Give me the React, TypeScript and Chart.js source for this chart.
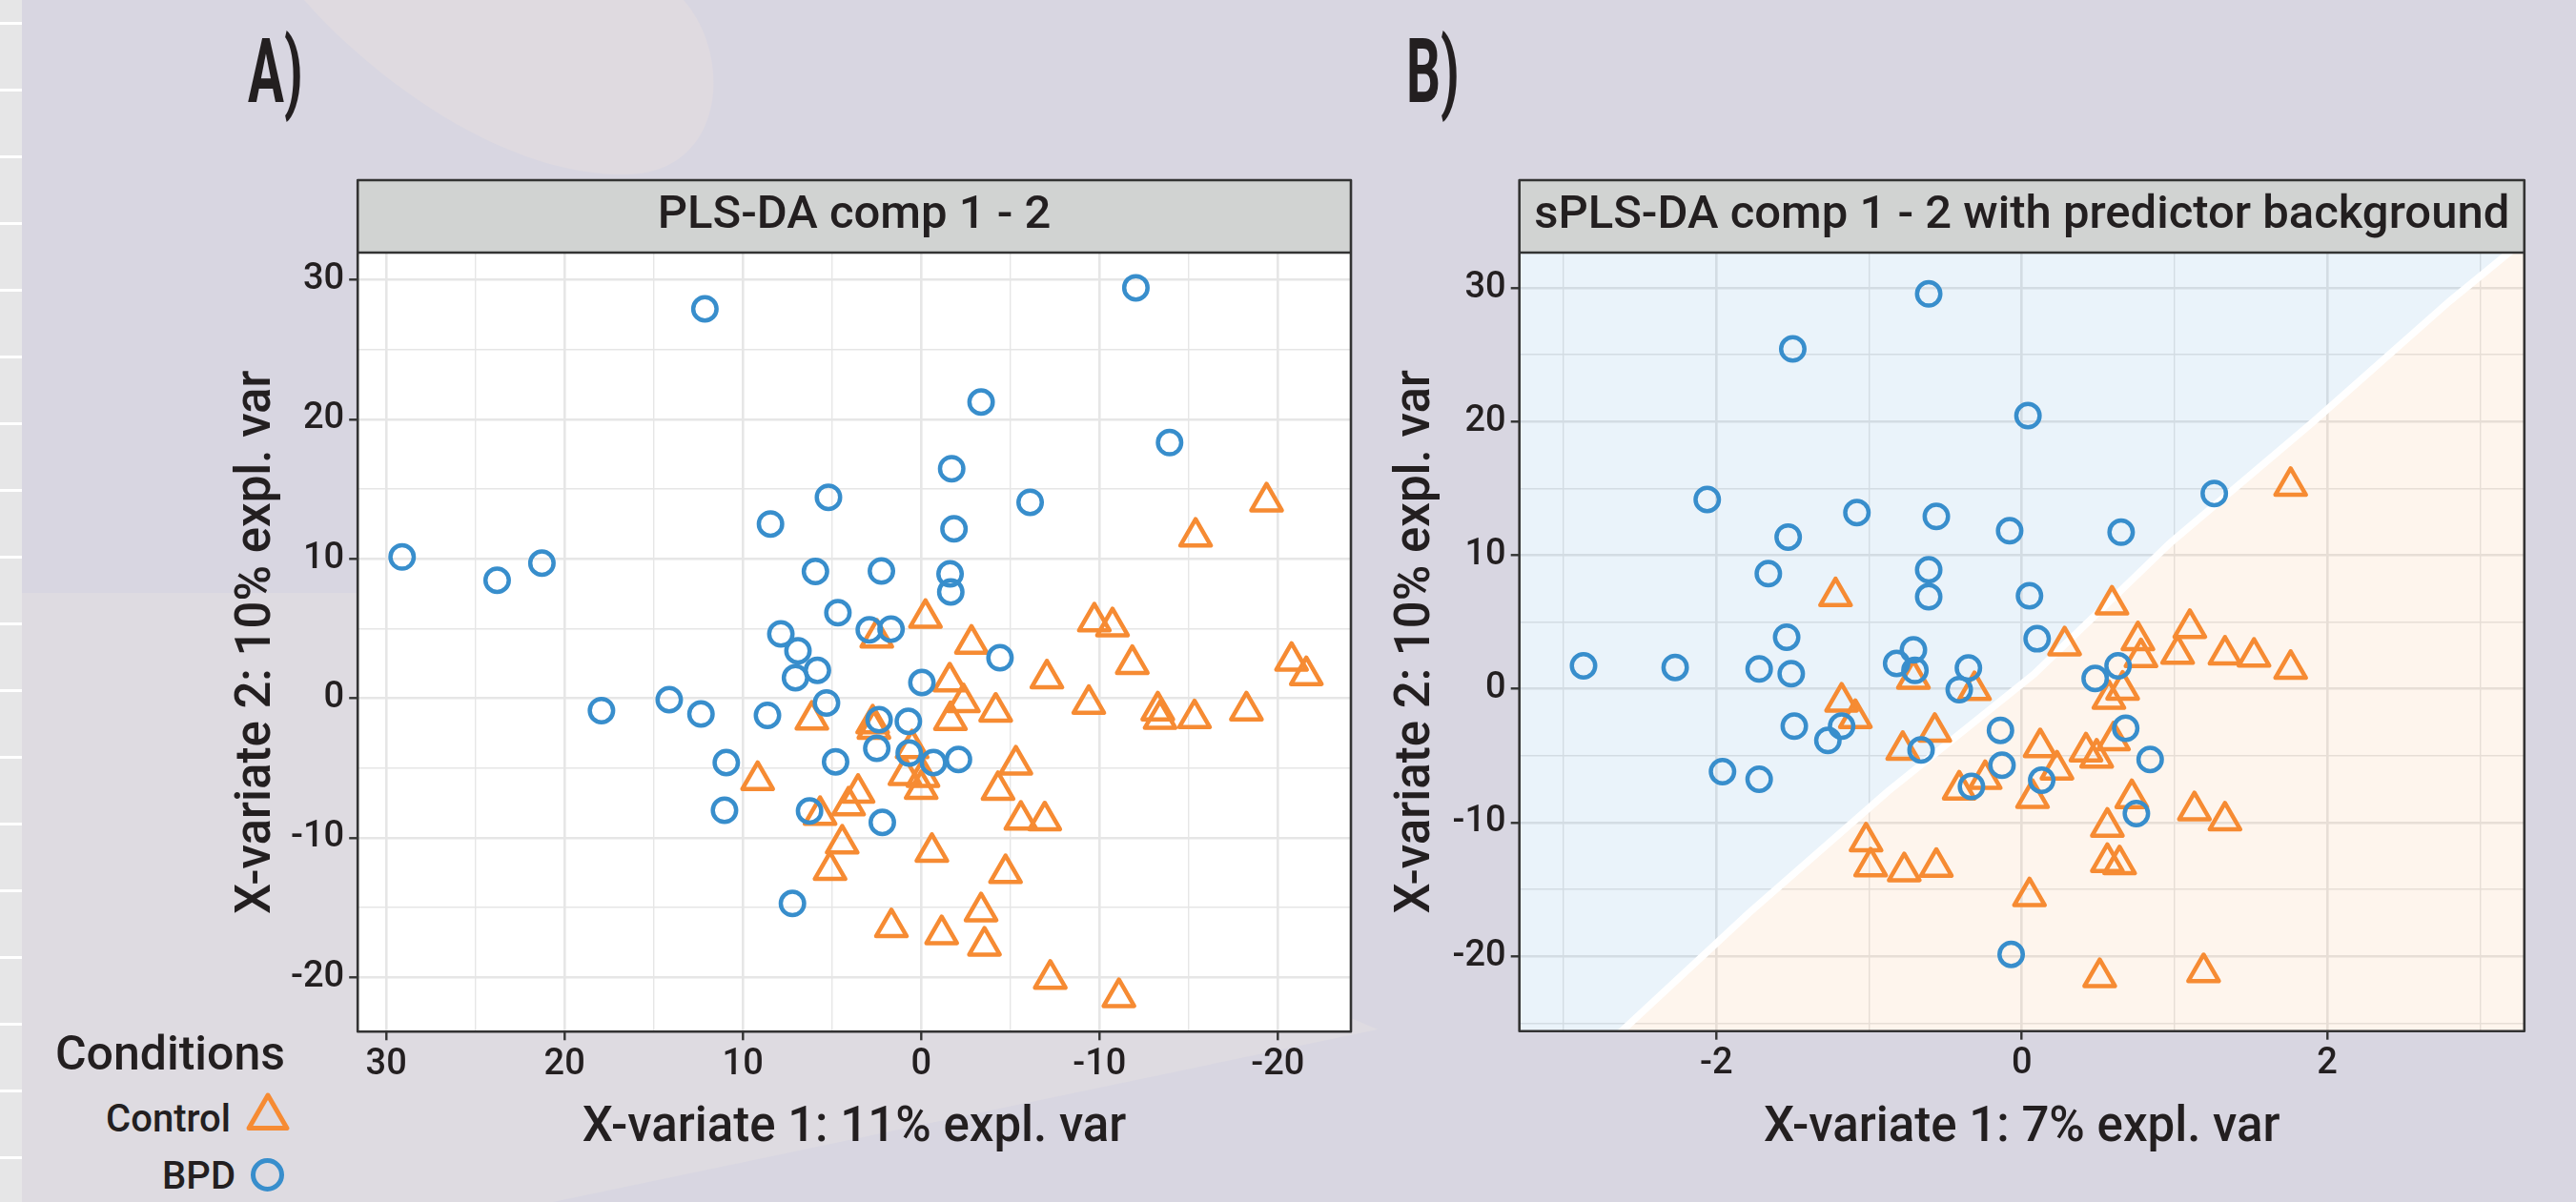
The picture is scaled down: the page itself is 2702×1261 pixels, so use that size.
import React, { useEffect, useRef } from 'react';
import { Chart, registerables } from 'chart.js';

Chart.register(...registerables);

// ---------- text ----------
const seriesNames = ['Control', 'BPD'];
const legendTitle = 'Conditions';
const panelLetters = ['A)', 'B)'];
const panelTitles = ['PLS-DA comp 1 - 2', 'sPLS-DA comp 1 - 2 with predictor background'];
const xTitles = ['X-variate 1: 11% expl. var', 'X-variate 1: 7% expl. var'];
const yTitles = ['X-variate 2: 10% expl. var', 'X-variate 2: 10% expl. var'];

// ---------- panel A : PLS-DA ----------
const plsdaBpdX = [12.13, 29.11, 23.78, 21.27, 8.45, 5.2, 5.93, 4.67, -12.04, -3.36, -13.93, -1.71, -6.11, -1.84, 2.23, -1.62, -1.66, 17.93, 14.13, 12.35, 8.62, 10.93, 11.03, 7.22, 7.87, 6.91, 5.82, 7.05, 5.31, 4.8, 6.26, 2.91, 1.69, -4.42, -0.04, 2.36, 0.72, 2.49, 0.67, -0.69, -2.09, 2.18];
const plsdaBpdY = [27.92, 10.13, 8.46, 9.69, 12.5, 14.41, 9.1, 6.14, 29.43, 21.24, 18.33, 16.46, 14.05, 12.15, 9.12, 8.92, 7.62, -0.88, -0.1, -1.13, -1.22, -4.61, -8.03, -14.71, 4.61, 3.4, 2.0, 1.47, -0.33, -4.55, -8.08, 4.91, 4.96, 2.9, 1.13, -1.54, -1.65, -3.59, -3.93, -4.61, -4.39, -8.9];
const plsdaControlX = [-19.37, -15.39, 6.13, 9.17, 5.67, 4.07, 4.43, 5.11, 2.49, -0.24, -2.82, -1.6, -2.37, -1.64, -4.18, -7.05, -9.71, -10.73, -11.84, -9.4, -13.27, -13.4, -15.33, -18.24, -20.77, -21.6, 2.72, 2.65, 0.51, 0.91, -0.1, 0, -5.31, -4.31, -5.59, -6.93, 3.54, -0.6, -4.73, 1.67, -1.15, -3.36, -3.55, -7.24, -11.09];
const plsdaControlY = [14.1, 11.58, -1.54, -5.87, -8.37, -7.69, -10.42, -12.32, 4.34, 5.76, 3.9, 1.2, -0.29, -1.57, -0.97, 1.42, 5.5, 5.15, 2.45, -0.41, -0.88, -1.49, -1.44, -0.88, 2.68, 1.65, -1.81, -2.2, -3.59, -5.52, -5.65, -6.51, -4.76, -6.58, -8.71, -8.76, -6.78, -11.02, -12.54, -16.42, -16.92, -15.28, -17.74, -20.12, -21.43];
const plsdaXTicks = [-20, -15, -10, -5, 0, 5, 10, 15, 20, 25, 30];
const plsdaXLabels = [-20, -10, 0, 10, 20, 30];
const plsdaYTicks = [-20, -15, -10, -5, 0, 5, 10, 15, 20, 25, 30];
const plsdaYLabels = [-20, -10, 0, 10, 20, 30];

// ---------- panel B : sPLS-DA ----------
const splsdaBpdX = [-0.61, -1.5, 0.04, -2.06, -1.08, -0.56, -1.53, -0.08, -1.66, -0.61, -0.61, 0.05, 1.26, 0.65, 0.1, -2.87, -2.27, -1.72, -1.51, -1.54, -0.82, -0.71, -0.7, -0.35, -0.41, -1.18, -1.27, -1.49, -0.66, -0.14, -0.13, 0.13, -0.33, -1.96, -1.72, -0.07, 0.63, 0.48, 0.68, 0.84, 0.75];
const splsdaBpdY = [29.55, 25.43, 20.44, 14.17, 13.19, 12.9, 11.36, 11.83, 8.62, 8.91, 6.89, 6.96, 14.62, 11.72, 3.75, 1.73, 1.61, 1.49, 1.13, 3.87, 1.9, 2.92, 1.38, 1.56, -0.05, -2.79, -3.86, -2.79, -4.57, -3.1, -5.71, -6.83, -7.3, -6.19, -6.76, -19.86, 1.73, 0.78, -2.95, -5.28, -9.32];
const splsdaControlX = [-1.22, 1.76, 0.59, -0.71, -0.31, -1.18, -1.09, -0.78, -0.57, 0.12, 0.07, -0.41, -0.24, -1.02, -0.99, -0.77, -0.56, 0.05, 0.28, 0.76, 0.78, 1.1, 1.02, 1.33, 1.52, 1.76, 0.66, 0.57, 0.6, 0.42, 0.49, 0.23, 0.72, 1.13, 1.33, 0.56, 0.56, 0.64, 0.51, 1.19];
const splsdaControlY = [6.93, 15.18, 6.3, 0.75, -0.1, -0.96, -2.19, -4.57, -3.22, -4.37, -8.17, -7.54, -6.75, -11.42, -13.29, -13.65, -13.32, -15.52, 3.25, 3.63, 2.36, 4.55, 2.61, 2.56, 2.4, 1.49, -0.07, -0.76, -3.86, -4.69, -5.15, -6.04, -8.18, -9.09, -9.85, -10.32, -12.96, -13.13, -21.57, -21.2];
const splsdaBoundaryX = [-3.4, -2.62, -1.79, -0.88, 0.08, 0.97, 1.9, 2.8, 3.4];
const splsdaBoundaryY = [-33.4, -25.6, -16.8, -7.7, 1.1, 10.9, 19.9, 29.0, 34.6];
const splsdaXTicks = [-3, -2, -1, 0, 1, 2, 3];
const splsdaXLabels = [-2, 0, 2];
const splsdaYTicks = [-25, -20, -15, -10, -5, 0, 5, 10, 15, 20, 25, 30];
const splsdaYLabels = [-20, -10, 0, 10, 20, 30];

// ---------- style ----------
const FONT = "Roboto, 'Noto Sans', 'DejaVu Sans', sans-serif";
const WEIGHT = 500;
const INK = '#231F20';
const ORANGE = '#F68B33';
const BLUE = '#388ECC';
const GRID = '#E6E6E6';
const FRAME = '#333333';

const toPoints = (xs: number[], ys: number[]) => xs.map((x, i) => ({ x, y: ys[i] }));

const panelPlugin = {
  id: 'panelFrame',
  beforeDraw(chart: any) {
    const { ctx, chartArea: a } = chart;
    const t = chart.titleBlock;
    ctx.save();
    ctx.fillStyle = '#FFFFFF';
    ctx.fillRect(a.left, a.top, a.right - a.left, a.bottom - a.top);
    ctx.fillStyle = '#D1D3D2';
    ctx.fillRect(a.left, t.top, a.right - a.left, a.top - t.top);
    ctx.restore();
  },
  beforeDatasetDraw(chart: any) {
    chart.ctx.lineJoin = 'round';
  },
  afterDraw(chart: any) {
    const { ctx, chartArea: a } = chart;
    const t = chart.titleBlock;
    ctx.save();
    ctx.strokeStyle = FRAME;
    ctx.lineWidth = 2.6;
    ctx.strokeRect(a.left, t.top, a.right - a.left, a.bottom - t.top);
    ctx.beginPath();
    ctx.moveTo(a.left, a.top);
    ctx.lineTo(a.right, a.top);
    ctx.stroke();
    ctx.restore();
  },
};

type Panel = {
  title: string; xTitle: string; yTitle: string;
  xMin: number; xMax: number; yMin: number; yMax: number; reverseX: boolean;
  xTicks: number[]; xLabels: number[]; yTicks: number[]; yLabels: number[];
  control: { x: number; y: number }[]; bpd: { x: number; y: number }[];
  boundary?: { x: number; y: number }[];
  yAxisWidth: number; yTitlePad: number; xAxisHeight: number; padRight: number; padBottom: number;
};

function axis(ticks: number[], labels: number[], tickPad: number, extra: any) {
  const major = (c: any) => !!c.tick && labels.includes(c.tick.value);
  return {
    type: 'linear',
    afterBuildTicks: (s: any) => { s.ticks = ticks.map((v) => ({ value: v })); },
    ticks: {
      autoSkip: false,
      maxRotation: 0,
      padding: tickPad,
      color: INK,
      font: { family: FONT, size: 38, weight: WEIGHT },
      callback: (v: any) => (labels.includes(v) ? String(v) : ''),
    },
    grid: {
      color: GRID,
      lineWidth: (c: any) => (major(c) ? 2.6 : 1.4),
      drawTicks: true,
      tickLength: 9,
      tickWidth: 2.4,
      tickColor: (c: any) => (major(c) ? FRAME : 'rgba(0,0,0,0)'),
    },
    border: { display: false },
    ...extra,
  };
}

function makeConfig(p: Panel): any {
  const datasets: any[] = [
    {
      label: seriesNames[0], data: p.control, pointStyle: 'triangle', pointRadius: 18.5,
      pointBorderWidth: 4.5, pointBorderColor: ORANGE, pointBackgroundColor: 'rgba(0,0,0,0)',
      borderColor: ORANGE, backgroundColor: 'rgba(0,0,0,0)', order: 1,
    },
    {
      label: seriesNames[1], data: p.bpd, pointStyle: 'circle', pointRadius: 12.25,
      pointBorderWidth: 4.5, pointBorderColor: BLUE, pointBackgroundColor: 'rgba(0,0,0,0)',
      borderColor: BLUE, backgroundColor: 'rgba(0,0,0,0)', order: 0,
    },
  ];
  if (p.boundary) {
    datasets.push({
      type: 'line', label: 'BPD region', data: p.boundary, borderColor: '#FFFFFF', borderWidth: 7.5,
      pointRadius: 0, fill: 'end', backgroundColor: 'rgba(56,142,204,0.105)', order: 5, clip: 0, tension: 0,
    });
    datasets.push({
      type: 'line', label: 'Control region', data: p.boundary, borderColor: 'rgba(0,0,0,0)', borderWidth: 0,
      pointRadius: 0, fill: 'start', backgroundColor: 'rgba(246,139,51,0.09)', order: 6, clip: 0, tension: 0,
    });
  }
  return {
    type: 'scatter',
    data: { datasets },
    plugins: [panelPlugin],
    options: {
      animation: false,
      responsive: false,
      maintainAspectRatio: false,
      devicePixelRatio: 1,
      events: [],
      layout: { padding: { left: 0, top: 9, right: p.padRight, bottom: p.padBottom } },
      plugins: {
        legend: { display: false },
        tooltip: { enabled: false },
        title: {
          display: true, text: p.title, fullSize: false, color: INK,
          font: { family: FONT, size: 49, weight: WEIGHT },
          padding: { top: 8.6, bottom: 8.6 },
        },
      },
      scales: {
        x: axis(p.xTicks, p.xLabels, 3, {
          position: 'bottom', min: p.xMin, max: p.xMax, reverse: p.reverseX,
          afterFit: (s: any) => { s.height = p.xAxisHeight; },
          title: { display: true, text: p.xTitle, color: INK, font: { family: FONT, size: 51, weight: WEIGHT }, padding: { top: 0, bottom: 0 } },
        }),
        y: axis(p.yTicks, p.yLabels, 5, {
          position: 'left', min: p.yMin, max: p.yMax,
          afterFit: (s: any) => { s.width = p.yAxisWidth; },
          title: { display: true, text: p.yTitle, color: INK, font: { family: FONT, size: 51, weight: WEIGHT }, padding: { top: p.yTitlePad, bottom: 0 } },
        }),
      },
    },
  };
}

const panelA: Panel = {
  title: panelTitles[0], xTitle: xTitles[0], yTitle: yTitles[0],
  xMin: -24.1, xMax: 31.6, yMin: -23.9, yMax: 31.95, reverseX: true,
  xTicks: plsdaXTicks, xLabels: plsdaXLabels, yTicks: plsdaYTicks, yLabels: plsdaYLabels,
  control: toPoints(plsdaControlX, plsdaControlY), bpd: toPoints(plsdaBpdX, plsdaBpdY),
  yAxisWidth: 375.2, yTitlePad: 239.4, xAxisHeight: 132.3, padRight: 9.7, padBottom: 46.4,
};

const panelB: Panel = {
  title: panelTitles[1], xTitle: xTitles[1], yTitle: yTitles[1],
  xMin: -3.29, xMax: 3.29, yMin: -25.6, yMax: 32.64, reverseX: false,
  xTicks: splsdaXTicks, xLabels: splsdaXLabels, yTicks: splsdaYTicks, yLabels: splsdaYLabels,
  control: toPoints(splsdaControlX, splsdaControlY), bpd: toPoints(splsdaBpdX, splsdaBpdY),
  boundary: toPoints(splsdaBoundaryX, splsdaBoundaryY),
  yAxisWidth: 153.7, yTitlePad: 15.4, xAxisHeight: 132.9, padRight: 54.2, padBottom: 46.4,
};

const legendRows = [
  { name: seriesNames[0], shape: 'triangle', color: ORANGE, textRight: 242, baseline: 1186.7, cx: 281, cy: 1172 },
  { name: seriesNames[1], shape: 'circle', color: BLUE, textRight: 247, baseline: 1246.7, cx: 280.5, cy: 1232.5 },
];

const sideStripLines = Array.from({ length: 18 }, (_, k) => 23 + 70 * k);

export default function App() {
  const refA = useRef<HTMLCanvasElement>(null);
  const refB = useRef<HTMLCanvasElement>(null);

  useEffect(() => {
    const a = new Chart(refA.current as HTMLCanvasElement, makeConfig(panelA));
    const b = new Chart(refB.current as HTMLCanvasElement, makeConfig(panelB));
    return () => {
      a.destroy();
      b.destroy();
    };
  }, []);

  const tri = (cx: number, cy: number, r: number) =>
    [0, 1, 2]
      .map((k) => {
        const ang = (k * 2 * Math.PI) / 3;
        return `${cx + Math.sin(ang) * r},${cy - Math.cos(ang) * r}`;
      })
      .join(' ');

  return (
    <div style={{ position: 'absolute', left: 0, top: 0, width: 2702, height: 1261, overflow: 'hidden', background: '#D8D6E1' }}>
      <svg width={2702} height={1261} style={{ position: 'absolute', left: 0, top: 0 }}>
        <rect x={0} y={0} width={2702} height={1261} fill="#D8D6E1" />
        <path d="M319,0 C380,70 520,185 657,183 C760,182 770,60 717,0 Z" fill="#DFDAE0" />
        <path d="M23,622 L380,622 L1445,1080 L580,1261 L23,1261 Z" fill="#DEDBE1" />
        <rect x={0} y={0} width={23} height={1261} fill="#E6E6E7" />
        {sideStripLines.map((y) => (
          <rect key={y} x={0} y={y} width={23} height={3} fill="#FFFFFF" />
        ))}
        <g fontFamily={FONT} fill={INK} fontWeight={WEIGHT}>
          <text transform="translate(260,107) scale(0.6,1)" fontSize={94} fontWeight={700}>{panelLetters[0]}</text>
          <text transform="translate(1475,107) scale(0.6,1)" fontSize={94} fontWeight={700}>{panelLetters[1]}</text>
          <text x={299} y={1121.7} fontSize={50} textAnchor="end">{legendTitle}</text>
          {legendRows.map((r) => (
            <g key={r.name}>
              <text x={r.textRight} y={r.baseline} fontSize={40} textAnchor="end">{r.name}</text>
              {r.shape === 'triangle' ? (
                <polygon points={tri(r.cx, r.cy, 23)} fill="none" stroke={r.color} strokeWidth={5} strokeLinejoin="round" />
              ) : (
                <circle cx={r.cx} cy={r.cy} r={15} fill="none" stroke={r.color} strokeWidth={5} />
              )}
            </g>
          ))}
        </g>
      </svg>
      <canvas ref={refA} width={1440} height={1081} style={{ position: 'absolute', left: 0, top: 180, width: 1440, height: 1081 }} />
      <canvas ref={refB} width={1262} height={1081} style={{ position: 'absolute', left: 1440, top: 180, width: 1262, height: 1081 }} />
    </div>
  );
}
